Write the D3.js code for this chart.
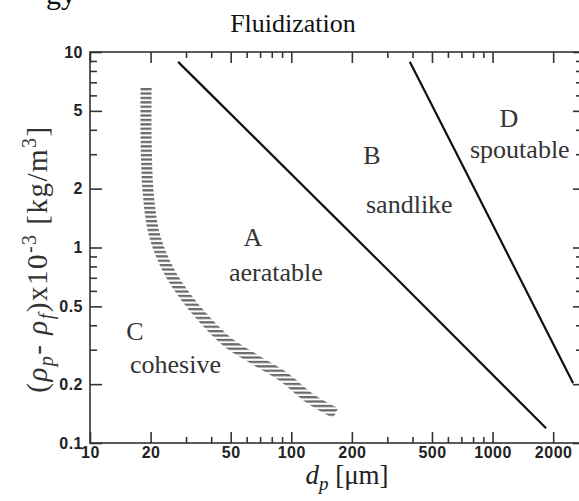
<!DOCTYPE html>
<html><head><meta charset="utf-8">
<script src="https://cdn.jsdelivr.net/npm/d3@7"></script>
<style>
body{margin:0;background:#fff}
.tick text{font-family:"Liberation Sans",Arial,sans-serif;font-weight:bold;font-size:16px;fill:#222;letter-spacing:0.5px}
.serif{font-family:"Liberation Serif","Times New Roman",serif}
</style>
</head><body>
<svg id="chart" width="579" height="501"></svg>
<script>
// ---- data ----
const xMajor = [10, 20, 50, 100, 200, 500, 1000, 2000];
const xMinor = [30, 40, 60, 70, 80, 90, 300, 400, 600, 700, 800, 900];
const yMajor = [0.1, 0.2, 0.5, 1, 2, 5, 10];
const yMinor = [0.3, 0.4, 0.6, 0.7, 0.8, 0.9, 3, 4, 6, 7, 8, 9];
// A/B boundary
const abD   = [27.4, 346, 1845];
const abRho = [8.9, 0.668, 0.119];
// B/D boundary
const bdD   = [388, 743, 2514];
const bdRho = [8.92, 2.40, 0.202];
// C/A boundary (hatched band)
const caD   = [19.0, 19.0, 19.4, 20.6, 22.6, 25.3, 29.4, 36.1, 48.1, 66.4, 91.4, 123, 166];
const caRho = [6.62, 3.55, 1.97, 1.23, 0.916, 0.723, 0.571, 0.441, 0.329, 0.266, 0.218, 0.170, 0.142];
const regionLetters = ["A", "B", "C", "D"];
const regionNames = ["aeratable", "sandlike", "cohesive", "spoutable"];

// ---- layout ----
const svg = d3.select("#chart");
const L = 90, R = 581, T = 52, B = 443;
const x = d3.scaleLog().domain([10, 2750]).range([L, R]);
const y = d3.scaleLog().domain([0.1, 10]).range([B, T]);

const defs = svg.append("defs");
const pat = defs.append("pattern").attr("id", "hatch")
  .attr("patternUnits", "userSpaceOnUse").attr("width", 20).attr("height", 4.4);
pat.append("rect").attr("x", 0).attr("y", 0).attr("width", 20).attr("height", 2.3).attr("fill", "#6a6a6a");

// stray text fragment at very top
svg.append("text").attr("class", "serif").attr("x", 46).attr("y", 4)
  .attr("font-size", 30).attr("fill", "#111").text("gy");

// title
svg.append("text").attr("class", "serif").attr("x", 293).attr("y", 32)
  .attr("text-anchor", "middle").attr("font-size", 26).attr("fill", "#111").text("Fluidization");

// axes
function styleAxis(g) {
  g.select(".domain").remove();
  g.selectAll(".tick line").attr("stroke", "#333").attr("stroke-width", 1.6);
}
svg.append("g").attr("transform", `translate(0,${B})`)
  .call(d3.axisBottom(x).tickValues(xMajor).tickSizeInner(-11).tickSizeOuter(0).tickPadding(4).tickFormat(d3.format("d")))
  .call(styleAxis);
svg.append("g").attr("transform", `translate(0,${B})`)
  .call(d3.axisBottom(x).tickValues(xMinor).tickSizeInner(-6).tickSizeOuter(0).tickFormat(""))
  .call(styleAxis);
svg.append("g").attr("transform", `translate(0,${T})`)
  .call(d3.axisTop(x).tickValues(xMajor).tickSizeInner(-11).tickSizeOuter(0).tickFormat(""))
  .call(styleAxis);
svg.append("g").attr("transform", `translate(0,${T})`)
  .call(d3.axisTop(x).tickValues(xMinor).tickSizeInner(-6).tickSizeOuter(0).tickFormat(""))
  .call(styleAxis);
svg.append("g").attr("transform", `translate(${L},0)`)
  .call(d3.axisLeft(y).tickValues(yMajor).tickSizeInner(-12).tickSizeOuter(0).tickPadding(7)
    .tickFormat(d => d >= 1 ? d3.format("d")(d) : d3.format(".1f")(d)))
  .call(styleAxis);
svg.append("g").attr("transform", `translate(${L},0)`)
  .call(d3.axisLeft(y).tickValues(yMinor).tickSizeInner(-7).tickSizeOuter(0).tickFormat(""))
  .call(styleAxis);
svg.append("g").attr("transform", `translate(${R},0)`)
  .call(d3.axisRight(y).tickValues(yMajor).tickSizeInner(-8).tickSizeOuter(0).tickFormat(""))
  .call(styleAxis);
svg.append("g").attr("transform", `translate(${R},0)`)
  .call(d3.axisRight(y).tickValues(yMinor).tickSizeInner(-5).tickSizeOuter(0).tickFormat(""))
  .call(styleAxis);

// frame
svg.append("rect").attr("x", L).attr("y", T).attr("width", R - L).attr("height", B - T)
  .attr("fill", "none").attr("stroke", "#333").attr("stroke-width", 1.6);

// boundaries
const line = d3.line().x(d => x(d[0])).y(d => y(d[1]));
svg.append("path").datum(d3.zip(abD, abRho)).attr("d", line)
  .attr("fill", "none").attr("stroke", "#111").attr("stroke-width", 2.2);
svg.append("path").datum(d3.zip(bdD, bdRho)).attr("d", line)
  .attr("fill", "none").attr("stroke", "#111").attr("stroke-width", 2.2);
const curve = d3.line().x(d => x(d[0])).y(d => y(d[1])).curve(d3.curveCatmullRom);
svg.append("path").datum(d3.zip(caD, caRho)).attr("d", curve)
  .attr("fill", "none").attr("stroke", "url(#hatch)").attr("stroke-width", 11);

// region labels
const letterPos = [[253, 246], [372, 164], [135, 340], [509, 127]];
const namePos = [[229, 281], [366, 213], [130, 373], [470, 158]];
regionLetters.forEach((t, i) => {
  svg.append("text").attr("class", "serif").attr("x", letterPos[i][0]).attr("y", letterPos[i][1])
    .attr("text-anchor", "middle").attr("font-size", 26).attr("fill", "#333").text(t);
});
regionNames.forEach((t, i) => {
  svg.append("text").attr("class", "serif").attr("x", namePos[i][0]).attr("y", namePos[i][1])
    .attr("font-size", 26).attr("fill", "#333").text(t);
});

// x axis title
const xt = svg.append("text").attr("class", "serif").attr("x", 347).attr("y", 484)
  .attr("text-anchor", "middle").attr("font-size", 27).attr("fill", "#222");
xt.append("tspan").attr("font-style", "italic").text("d");
xt.append("tspan").attr("font-style", "italic").attr("font-size", 19).attr("dy", 6).text("p");
xt.append("tspan").attr("dy", -6).text(" [μm]");

// y axis title
const yt = svg.append("text").attr("class", "serif")
  .attr("transform", "translate(47,259) rotate(-90)")
  .attr("text-anchor", "middle").attr("font-size", 29).attr("letter-spacing", 1.5).attr("fill", "#333");
yt.append("tspan").text("(");
yt.append("tspan").attr("font-style", "italic").text("ρ");
yt.append("tspan").attr("font-style", "italic").attr("font-size", 20).attr("dy", 6).text("p");
yt.append("tspan").attr("dy", -6).text("- ");
yt.append("tspan").attr("font-style", "italic").text("ρ");
yt.append("tspan").attr("font-style", "italic").attr("font-size", 20).attr("dy", 6).text("f");
yt.append("tspan").attr("dy", -6).text(")x10");
yt.append("tspan").attr("font-size", 20).attr("dy", -11).text("-3");
yt.append("tspan").attr("dy", 11).text(" [kg/m");
yt.append("tspan").attr("font-size", 20).attr("dy", -11).text("3");
yt.append("tspan").attr("dy", 11).text("]");
</script>
</body></html>
